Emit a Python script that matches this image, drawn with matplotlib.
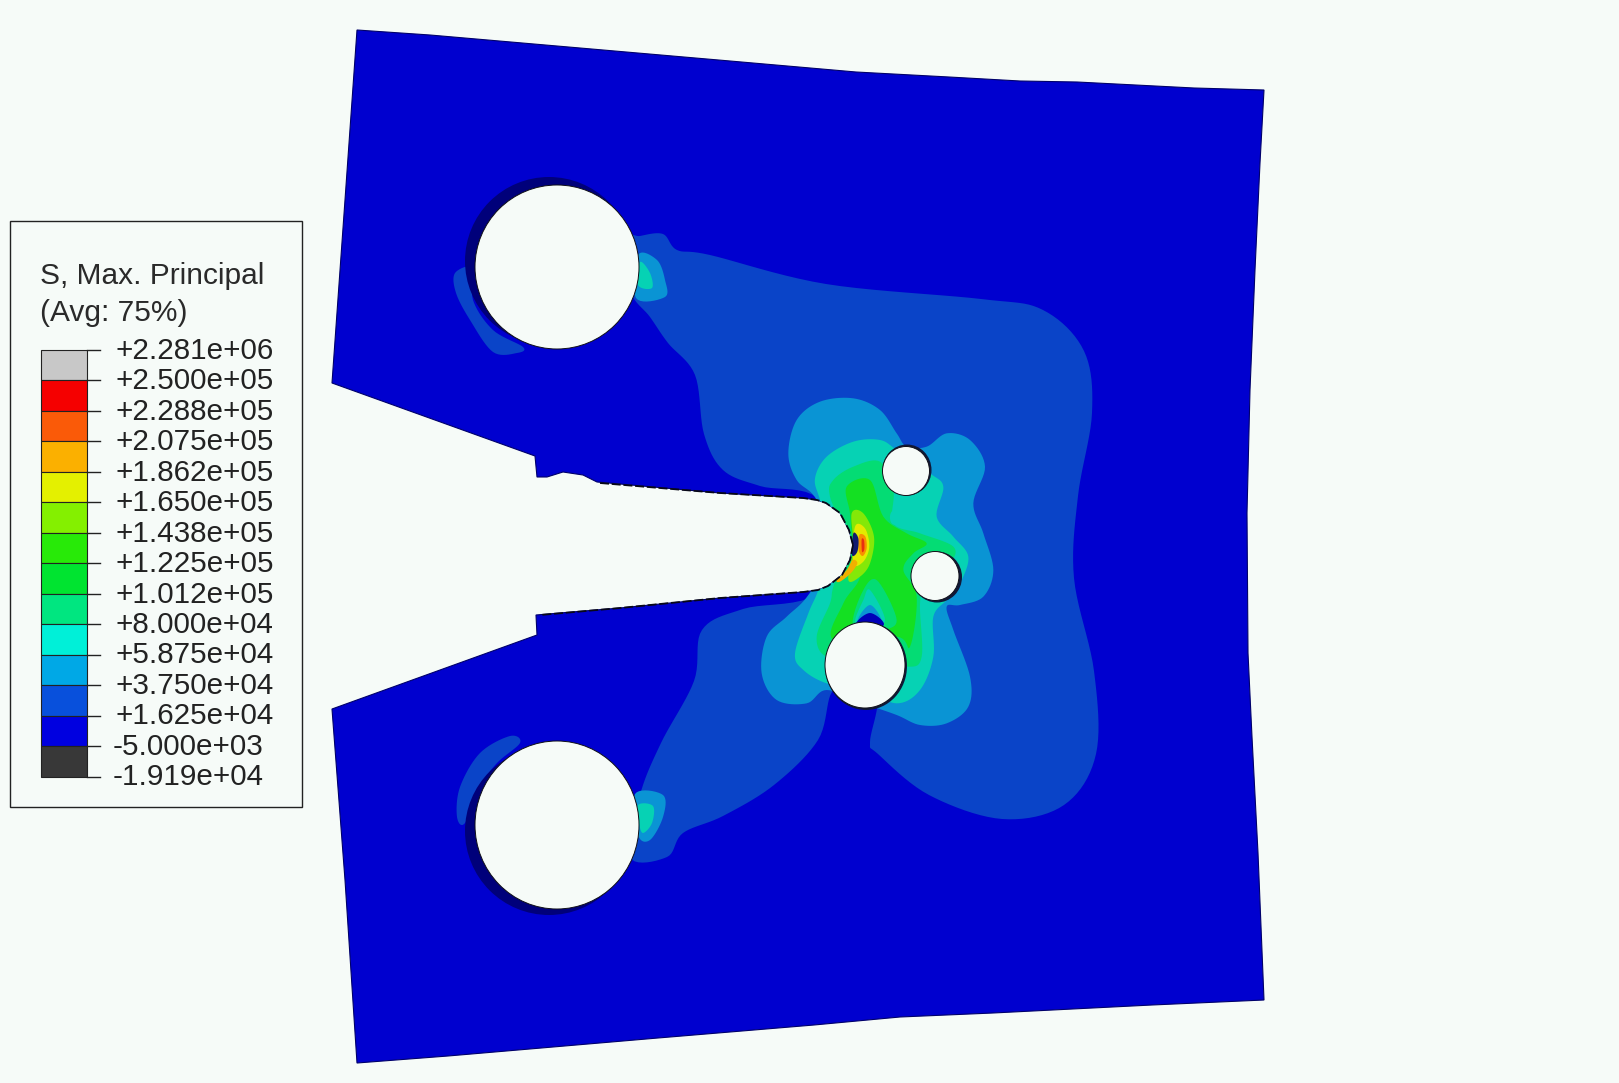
"""Max principal stress contours on a cracked specimen, with the viewer legend."""

import numpy as np
import matplotlib

matplotlib.use("Agg")
from matplotlib import pyplot as plt
from matplotlib.patches import Ellipse, Polygon, Rectangle

plt.rcParams["font.family"] = ["Liberation Sans", "DejaVu Sans"]

WIDTH, HEIGHT = 1619, 1083
BACKGROUND = "#f6fbf8"

LEGEND_TITLE = ["S, Max. Principal", "(Avg: 75%)"]
LEGEND_LABELS = [
    "+2.281e+06", "+2.500e+05", "+2.288e+05", "+2.075e+05", "+1.862e+05",
    "+1.650e+05", "+1.438e+05", "+1.225e+05", "+1.012e+05", "+8.000e+04",
    "+5.875e+04", "+3.750e+04", "+1.625e+04", "-5.000e+03", "-1.919e+04",
]
LEGEND_COLORS = [
    "#c8c8c8", "#f50000", "#fa5a08", "#fbb000", "#e4f000", "#84f000", "#28ea08",
    "#00e430", "#00e680", "#00f0d8", "#00a8e6", "#0850dc", "#0000e0", "#383838",
]

BASE_BLUE = "#0000cf"
BAND_2 = "#0a44c8"
BAND_3 = "#0a94d4"
BAND_4 = "#06d2b4"
BAND_5 = "#04dc74"
BAND_6 = "#14e022"
BAND_7 = "#84e808"

SPECIMEN = [
    (357, 30), (430, 35), (580, 48), (730, 61), (856, 72), (949, 77), (1020, 81), (1077, 82), (1194, 88),
    (1264, 90), (1260, 163), (1255, 270), (1250, 390), (1247, 513), (1248, 653), (1252, 737), (1258, 853),
    (1264, 1000), (1152, 1005), (993, 1013), (900, 1017), (814, 1025), (658, 1038), (448, 1056),
    (357, 1063), (345, 880), (332, 709), (537, 635),
    (536, 615), (620, 608), (720, 598), (803, 592), (818, 590), (828, 586), (842, 575), (850, 560),
    (853, 545), (849, 530), (840, 513), (826, 503), (817, 500), (803, 498), (720, 493), (620, 484),
    (597, 482), (583, 475), (563, 472), (547, 477), (537, 477), (535, 456), (332, 383), (345, 200),
]
NOTCH_TOP = [(600, 483), (720, 493), (803, 498), (817, 500), (826, 503), (840, 513), (849, 530), (853, 545)]
NOTCH_LOW = [(853, 545), (850, 560), (842, 575), (828, 586), (818, 590), (803, 592), (720, 598), (620, 608), (540, 615)]

# Full image coordinates of the widest blue contour.
OUTLINE_BAND_2 = [
    (630, 240), (640, 236), (663, 234), (677, 250), (710, 255), (826, 284), (981, 299), (1043, 310), (1084, 351),
    (1092, 413), (1078, 496), (1074, 578), (1094, 671), (1096, 754), (1064, 805), (1002, 819), (929, 795),
    (878, 754), (870, 742), (877, 700), (855, 690), (832, 692), (818, 740), (774, 785), (723, 816), (683, 833), (667, 857),
    (630, 857), (640, 795), (661, 743), (694, 681), (702, 630), (743, 609), (820, 590), (820, 502),
    (760, 486), (723, 470), (704, 434), (695, 375), (668, 343), (650, 317), (630, 290),
]
TOP_PATCH_BAND_2 = [(473, 268), (455, 273), (456, 293), (470, 320), (493, 352), (517, 353), (523, 347), (493, 330), (473, 300)]
LOW_PATCH_BAND_2 = [(510, 736), (480, 753), (460, 787), (457, 817), (465, 823), (480, 787), (497, 763), (520, 743)]
TOP_PATCH_BAND_3 = [(638, 255), (657, 260), (665, 280), (665, 297), (636, 298)]
TOP_PATCH_BAND_4 = [(640, 262), (650, 273), (652, 288), (638, 285)]
LOW_PATCH_BAND_3 = [(635, 794), (663, 795), (663, 817), (650, 840), (638, 835)]
LOW_PATCH_BAND_4 = [(638, 805), (653, 806), (652, 823), (643, 833), (639, 823)]

# Crop coordinates (origin 720, 390, three times enlarged) around the crack tip.
LOBES_BAND_3 = [
    (290, 330), (230, 270), (205, 190), (230, 90), (300, 35), (400, 25), (480, 60), (530, 130), (560, 170),
    (620, 170), (680, 130), (750, 150), (795, 230), (760, 340), (790, 430), (820, 540), (790, 620),
    (720, 645), (680, 650), (700, 720), (750, 860), (745, 950), (680, 1000), (600, 1005), (530, 975),
    (430, 940), (320, 900), (260, 940), (170, 930), (125, 850), (140, 740), (200, 680), (265, 615), (340, 480),
]
LOBES_BAND_4 = [
    (300, 330), (285, 265), (320, 200), (400, 155), (480, 150), (530, 180), (630, 250), (670, 290), (650, 380),
    (700, 440), (745, 500), (720, 580), (680, 630), (640, 680), (640, 800), (600, 900), (530, 940),
    (430, 900), (320, 880), (250, 840), (225, 790), (265, 670), (295, 600), (340, 460),
]
LOBES_BAND_5 = [
    (330, 320), (340, 270), (400, 230), (480, 215), (520, 300), (520, 400), (600, 430), (700, 470), (690, 520),
    (620, 580), (600, 640), (605, 800), (560, 830), (430, 800), (320, 800), (290, 740), (330, 640), (340, 590), (380, 460),
]
LOBES_BAND_6 = [
    (390, 370), (380, 290), (450, 270), (490, 380), (560, 430), (620, 460), (580, 490), (550, 540),
    (590, 620), (570, 770), (530, 740), (340, 750), (370, 640), (420, 560), (400, 470),
]
WEDGE_BAND_5 = [(470, 570), (530, 690), (480, 720), (400, 710), (425, 610)]
WEDGE_BAND_4 = [(450, 600), (495, 690), (450, 720), (405, 700), (430, 630)]
WEDGE_BAND_3 = [(450, 645), (485, 695), (450, 720), (412, 695)]
SADDLE_BAND_4 = [(520, 360), (600, 345), (640, 385), (560, 405), (515, 400)]
TIP_LIME = [(395, 370), (430, 370), (462, 440), (450, 520), (420, 560), (385, 570), (400, 470)]
TIP_YELLOW = [(405, 410), (435, 415), (448, 470), (430, 515), (400, 520)]
TIP_ORANGE = [(418, 435), (436, 440), (440, 475), (428, 498), (416, 480)]
TIP_RED = [(425, 448), (432, 450), (433, 478), (426, 485)]
ARC_ORANGE = [(398, 510), (412, 520), (392, 550), (360, 575), (350, 570), (380, 540)]
TIP_DARK = [(400, 430), (415, 445), (412, 485), (396, 495)]

# Hole centres and radii.
BIG_HOLES = [(557, 267, 82, 82), (557, 825, 82, 84)]
SMALL_HOLES = [(906, 471, 23.5, 24.5), (935, 576, 24, 24.5), (865, 665, 40, 43)]
HOLE_SHADOWS = [(549, 261, 84, 84, "#00007a"), (549, 831, 84, 84, "#00007a")]
HOLE_RIMS = [(907, 470, 24.5, 25.5, "#101838"), (937, 577, 25, 25.5, "#101838"), (866, 666, 41, 44, "#101838")]
ABOVE_HOLE_DARK = [(856, 624), (870, 613), (884, 624), (870, 632)]


def _from_crop(points):
    return [(720 + x / 3.0, 390 + y / 3.0) for x, y in points]


def _smooth(points, samples=10):
    pts = np.asarray(points, dtype=float)
    curve = []
    for index in range(len(pts)):
        p0, p1, p2, p3 = (pts[(index + offset) % len(pts)] for offset in (-1, 0, 1, 2))
        for t in np.linspace(0.0, 1.0, samples, endpoint=False):
            curve.append(
                0.5 * (2 * p1 + (p2 - p0) * t + (2 * p0 - 5 * p1 + 4 * p2 - p3) * t**2 + (3 * p1 - p0 - 3 * p2 + p3) * t**3)
            )
    return np.array(curve)


def _band(ax, points, color, clip):
    patch = Polygon(_smooth(points), closed=True, facecolor=color, edgecolor="none", zorder=3)
    ax.add_patch(patch)
    patch.set_clip_path(clip)


def draw_specimen(ax):
    body = Polygon(SPECIMEN, closed=True, facecolor=BASE_BLUE, edgecolor="#00006a", linewidth=0.8, zorder=2)
    ax.add_patch(body)

    for points, color in [
        (OUTLINE_BAND_2, BAND_2),
        (TOP_PATCH_BAND_2, BAND_2),
        (LOW_PATCH_BAND_2, BAND_2),
        (TOP_PATCH_BAND_3, BAND_3),
        (TOP_PATCH_BAND_4, BAND_4),
        (LOW_PATCH_BAND_3, BAND_3),
        (LOW_PATCH_BAND_4, BAND_4),
        (_from_crop(LOBES_BAND_3), BAND_3),
        (_from_crop(LOBES_BAND_4), BAND_4),
        (_from_crop(LOBES_BAND_5), BAND_5),
        (_from_crop(LOBES_BAND_6), BAND_6),
        (_from_crop(SADDLE_BAND_4), BAND_4),
        (_from_crop(WEDGE_BAND_5), BAND_5),
        (_from_crop(WEDGE_BAND_4), BAND_4),
        (_from_crop(WEDGE_BAND_3), BAND_3),
        (ABOVE_HOLE_DARK, "#0000b8"),
        (_from_crop(TIP_LIME), BAND_7),
        (_from_crop(TIP_YELLOW), "#e4ea00"),
        (_from_crop(TIP_ORANGE), "#f89000"),
        (_from_crop(TIP_RED), "#e83010"),
        (_from_crop(ARC_ORANGE), "#f0b000"),
        (_from_crop(TIP_DARK), "#101a70"),
    ]:
        _band(ax, points, color, body)

    for x, y, rx, ry, color in HOLE_SHADOWS + HOLE_RIMS:
        ax.add_patch(Ellipse((x, y), 2 * rx, 2 * ry, facecolor=color, edgecolor="none", zorder=4))
    for x, y, rx, ry in BIG_HOLES + SMALL_HOLES:
        ax.add_patch(Ellipse((x, y), 2 * rx, 2 * ry, facecolor=BACKGROUND, edgecolor="#101018", linewidth=0.7, zorder=5))

    for line in (NOTCH_TOP, NOTCH_LOW):
        xs, ys = zip(*line)
        ax.plot(xs, ys, color="#080818", linewidth=1.3, linestyle=(0, (5, 1.5)), zorder=6)


def draw_legend(ax):
    ax.add_patch(Rectangle((10, 221), 292, 586, facecolor=BACKGROUND, edgecolor="#222222", linewidth=1.0, zorder=6))
    for line, y in zip(LEGEND_TITLE, [275.5, 313]):
        ax.text(40, y, line, fontsize=21.5, color="#2a2a2a", ha="left", va="center", zorder=7)

    top, bottom = 350.0, 776.5
    edges = np.linspace(top, bottom, len(LEGEND_LABELS))
    for color, y0, y1 in zip(LEGEND_COLORS, edges[:-1], edges[1:]):
        ax.add_patch(Rectangle((41, y0), 46, y1 - y0, facecolor=color, edgecolor="#222222", linewidth=0.8, zorder=7))
    for label, y in zip(LEGEND_LABELS, edges):
        ax.plot([87, 100], [y, y], color="#222222", linewidth=1.0, zorder=7)
        ax.text(115 if label[0] == "+" else 113, y + 0.8, label, fontsize=21.3, color="#222222", ha="left", va="center", zorder=7)


fig = plt.figure(figsize=(WIDTH / 100, HEIGHT / 100), dpi=100)
fig.patch.set_facecolor(BACKGROUND)
ax = fig.add_axes([0, 0, 1, 1])
ax.set_xlim(0, WIDTH)
ax.set_ylim(HEIGHT, 0)
ax.axis("off")

draw_specimen(ax)
draw_legend(ax)

fig.savefig("out.png", dpi=100, facecolor=BACKGROUND)
plt.close(fig)
